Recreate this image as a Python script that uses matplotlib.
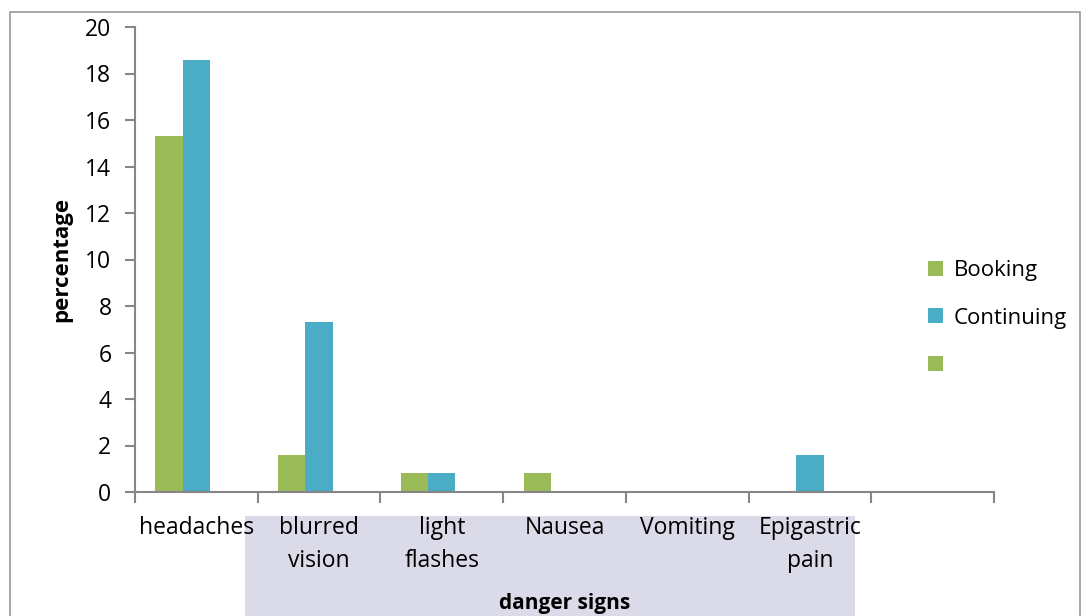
import matplotlib.pyplot as plt
from matplotlib.patches import Rectangle
import numpy as np

plt.rcParams['font.family'] = ['Open Sans', 'DejaVu Sans']

categories = ['headaches', 'blurred\nvision', 'light\nflashes', 'Nausea', 'Vomiting', 'Epigastric\npain', '']
booking = [15.3, 1.6, 0.8, 0.8, 0, 0, 0]
continuing = [18.6, 7.3, 0.8, 0, 0, 1.6, 0]
third = [0, 0, 0, 0, 0, 0, 0]

green = '#9BBB59'
blue = '#4BACC6'
axis_grey = '#868686'

fig = plt.figure(figsize=(10.81, 6.16), dpi=100)
ax = fig.add_axes([135 / 1081, 1 - 492 / 616, (994 - 135) / 1081, (492 - 27) / 616])

# faint watermark box behind the bottom labels
fig.patches.append(Rectangle((245 / 1081, 0), 610 / 1081, 100 / 616, transform=fig.transFigure,
                             facecolor='#dadae8', edgecolor='none', zorder=-2))
# outer chart frame
fig.patches.append(Rectangle((10 / 1081, -0.1), 1070 / 1081, 1.1 - 12 / 616, transform=fig.transFigure,
                             facecolor='none', edgecolor='#9a9a9a', linewidth=1.2, zorder=-1))

x = np.arange(len(categories))
w = 0.222
ax.bar(x - w, booking, w, color=green, label='Booking', linewidth=0)
ax.bar(x, continuing, w, color=blue, label='Continuing', linewidth=0)
ax.bar(x + w, third, w, color=green, label=' ', linewidth=0)

ax.set_xlim(-0.5, len(categories) - 0.5)
ax.set_ylim(0, 20)
ax.set_yticks(range(0, 21, 2))
ax.set_xticks(np.arange(-0.5, len(categories), 1))
ax.set_xticklabels([])
ax.set_xticks(x, minor=True)
ax.set_xticklabels(categories, minor=True, fontsize=16.5, linespacing=1.5)
ax.tick_params(axis='x', which='minor', length=0, pad=17)
ax.tick_params(axis='x', which='major', length=8, width=1.5, color=axis_grey)
ax.tick_params(axis='y', labelsize=16.5, length=7, width=1.5, color=axis_grey, pad=10)
for lbl in ax.get_xticklabels(minor=True):
    lbl.set_verticalalignment('top')

for s in ['top', 'right']:
    ax.spines[s].set_visible(False)
for s in ['left', 'bottom']:
    ax.spines[s].set_color(axis_grey)
    ax.spines[s].set_linewidth(1.5)
ax.patch.set_alpha(0)

ax.set_ylabel('percentage', fontsize=16, fontweight='bold')
ax.set_xlabel('danger signs', fontsize=15, fontweight='bold')
ax.xaxis.set_label_coords(0.5, -0.218)
ax.yaxis.set_label_coords(-0.073, 0.5)

ax.legend(loc='center left', bbox_to_anchor=(0.9, 0.374), frameon=False, fontsize=16,
          handlelength=0.65, handleheight=0.65, handletextpad=0.5, labelspacing=1.2)

fig.savefig('out.png', dpi=100)
